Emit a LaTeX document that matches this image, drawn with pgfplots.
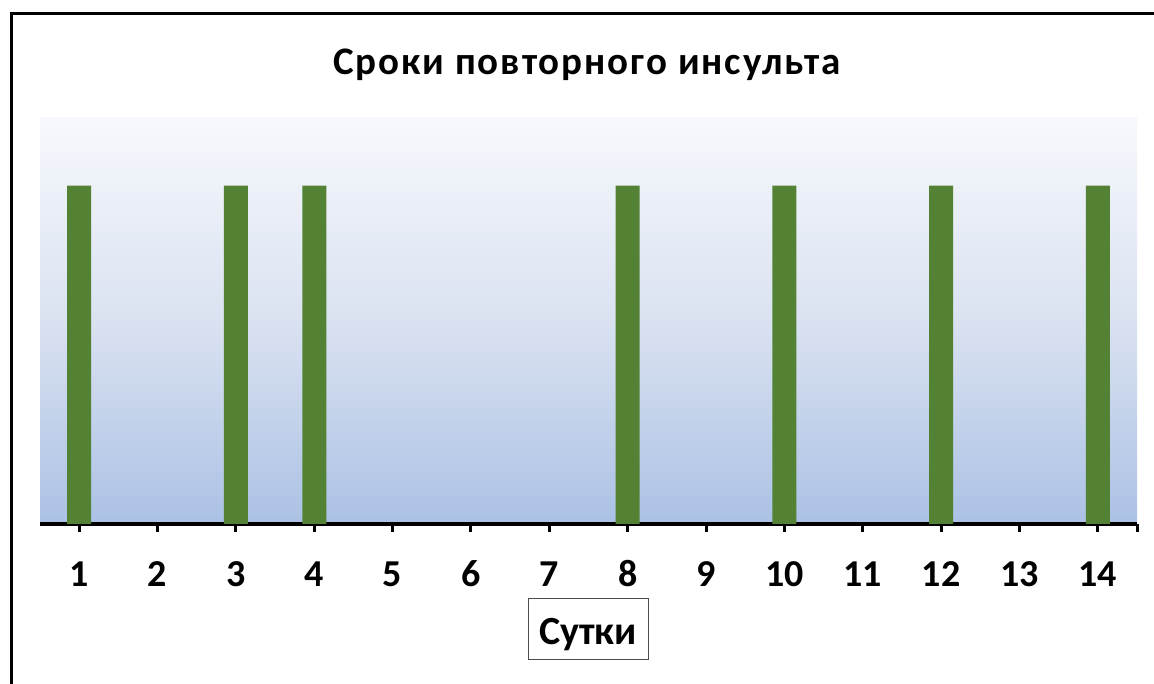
\documentclass[border=0pt]{standalone}
\usepackage{pgfplots}
\pgfplotsset{compat=1.18}
\usepackage{fontspec}
\setmainfont{Carlito}

\definecolor{barGreen}{RGB}{84,130,53}
\definecolor{bgTop}{RGB}{246,248,252}
\definecolor{bgMid}{RGB}{218,226,241}
\definecolor{bgBot}{RGB}{171,193,228}

\begin{document}
\begin{tikzpicture}[x=1pt,y=1pt]
  \path[use as bounding box] (0,0) rectangle (1154,684);
  % outer frame (left and top edges)
  \draw[line width=3pt, line cap=rect] (11,-5) -- (11,670) -- (1160,670);

  \begin{axis}[
      at={(40pt,160pt)}, anchor=south west,
      width=1097pt, height=406pt, scale only axis,
      xmin=0.5, xmax=14.5, ymin=0, ymax=1.2,
      axis x line*=bottom,
      hide y axis,
      axis line style={line width=4pt, -},
      xtick={1,...,14},
      extra x ticks={14.5},
      extra x tick labels={},
      extra x tick style={tick style={line width=3pt, black}},
      tick align=outside,
      major tick length=8pt,
      tick style={line width=3pt, black},
      /pgf/number format/assume math mode=true,
      xticklabel style={font=\fontsize{38}{42}\selectfont\bfseries, anchor=base, yshift=-55pt},
      axis background/.style={top color=bgTop, bottom color=bgBot, middle color=bgMid},
      clip=false,
    ]
    \addplot[ybar, bar width=24pt, fill=barGreen, draw=none] coordinates {
      (1,1) (3,1) (4,1) (8,1) (10,1) (12,1) (14,1)
    };
  \end{axis}

  % title
  \node[anchor=base, font=\fontsize{39}{43}\selectfont\bfseries\addfontfeature{LetterSpace=5}] at (587,609) {Сроки повторного инсульта};
  % axis title in a box
  \draw[line width=1pt, black!70] (528,24) rectangle (648,85);
  \node[anchor=base, font=\fontsize{40}{44}\selectfont\bfseries] at (588,39) {Сутки};
\end{tikzpicture}
\end{document}
